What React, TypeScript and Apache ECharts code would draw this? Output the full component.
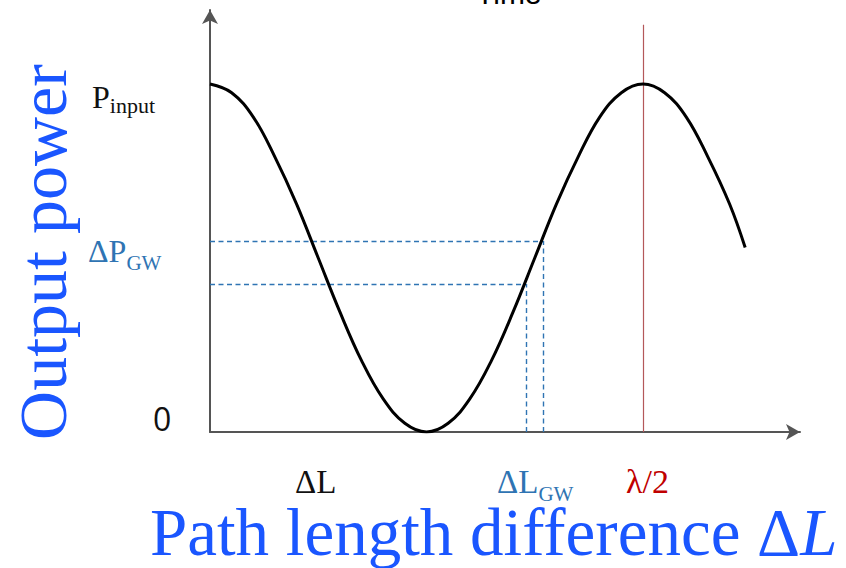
import React, { useEffect, useRef } from "react";
import * as echarts from "echarts";

// Path length difference in units of λ/2
const pathDiff = [0, 0.05, 0.1, 0.15, 0.2, 0.25, 0.3, 0.35, 0.4, 0.45, 0.5, 0.55, 0.6, 0.65, 0.7, 0.75, 0.8, 0.85, 0.9, 0.95, 1.0, 1.05, 1.1, 1.15, 1.2, 1.236];
// Output power normalised to P_input
const outputPower = [1, 0.975, 0.905, 0.79, 0.655, 0.5, 0.345, 0.205, 0.095, 0.025, 0, 0.025, 0.095, 0.205, 0.345, 0.5, 0.655, 0.79, 0.905, 0.975, 1, 0.975, 0.905, 0.79, 0.655, 0.53];

const dlGwValues = [0.73, 0.769];
const dpGwValues = [0.425, 0.549];
const halfLambda = 1.0;
const halfLambdaLineTop = 1.17;

const yTickLabels = ["0", "P", "input"];

const X_MAX = 1.3626;
const Y_MAX = 1.2126;

export default function App() {
  const ref = useRef<HTMLDivElement>(null);
  useEffect(() => {
    if (!ref.current) return;
    const chart = echarts.init(ref.current, null, { renderer: "svg" });
    const blue = "#2f74b3";
    const bigBlue = "#1a56ff";
    const serif = "'Liberation Serif'";
    const dashStyle = { color: blue, type: [5, 3.5] as any, width: 1.4 };
    const markData: any[] = [];
    for (let i = 0; i < dlGwValues.length; i++) {
      markData.push([
        { coord: [0, dpGwValues[i]], lineStyle: dashStyle },
        { coord: [dlGwValues[i], dpGwValues[i]] },
      ]);
      markData.push([
        { coord: [dlGwValues[i], 0], lineStyle: dashStyle },
        { coord: [dlGwValues[i], dpGwValues[i]] },
      ]);
    }
    markData.push([
      { coord: [halfLambda, 0], lineStyle: { color: "#b4585a", width: 1.2, type: "solid" } },
      { coord: [halfLambda, halfLambdaLineTop] },
    ]);
    const txt = (text: string, x: number, y: number, size: number, fill: string, family = serif, extra: any = {}) => ({
      type: "text",
      x,
      y,
      style: { text, fontFamily: family, fontSize: size, fill, ...extra },
    });
    const sub = (main: string, subText: string, x: number, y: number, A: number, B: number, p: number, fill: string) => ({
      type: "text",
      x,
      y,
      style: {
        text: `{a|${main}}{b|${subText}}`,
        rich: {
          a: { fontFamily: serif, fontSize: A, lineHeight: A, fill, verticalAlign: "top" },
          b: { fontFamily: serif, fontSize: B, lineHeight: B, fill, verticalAlign: "top", padding: [p, 0, 0, 0] },
        },
      } as any,
    });
    chart.setOption({
      animation: false,
      backgroundColor: "#ffffff",
      grid: { left: 210, top: 10, right: 46, bottom: 136 },
      xAxis: {
        type: "value",
        min: 0,
        max: X_MAX,
        axisLine: {
          show: true,
          symbol: ["none", "arrow"],
          symbolSize: [12, 14],
          lineStyle: { color: "#555555", width: 2 },
        },
        axisTick: { show: false },
        axisLabel: { show: false },
        splitLine: { show: false },
      },
      yAxis: {
        type: "value",
        min: 0,
        max: Y_MAX,
        axisLine: {
          show: true,
          symbol: ["none", "arrow"],
          symbolSize: [12, 14],
          lineStyle: { color: "#555555", width: 2 },
        },
        axisTick: { show: false },
        axisLabel: { show: false },
        splitLine: { show: false },
      },
      series: [
        {
          type: "line",
          data: pathDiff.map((x, i) => [x, outputPower[i]]),
          smooth: 0.4,
          showSymbol: false,
          lineStyle: { color: "#000000", width: 3 },
          z: 5,
          markLine: {
            silent: true,
            symbol: ["none", "none"],
            label: { show: false },
            data: markData,
          },
        },
      ],
      graphic: [
        txt("Time", 476, -22, 30, "#000", "'Liberation Sans'"),
        sub(yTickLabels[1], yTickLabels[2], 92, 81, 32, 22, 13, "#111"),
        sub("ΔP", "GW", 88, 235, 32, 21, 17.5, blue),
        txt(yTickLabels[0], 153, 402, 32, "#111", "'Open Sans'"),
        txt("ΔL", 295, 465, 33, "#111", serif, { lineHeight: 33 }),
        sub("ΔL", "GW", 497, 465, 33, 21, 18.5, blue),
        txt("λ/2", 626, 464, 34, "#c00000", serif, { lineHeight: 34 }),
        {
          type: "text",
          x: 43,
          y: 252,
          rotation: Math.PI / 2,
          style: {
            text: "Output power",
            fontFamily: serif,
            fontSize: 68,
            fill: bigBlue,
            align: "center",
            verticalAlign: "middle",
          },
        },
        {
          type: "text",
          x: 150,
          y: 502,
          style: {
            text: "{a|Path length difference Δ}{b|L}",
            rich: {
              a: { fontFamily: serif, fontSize: 67, lineHeight: 60, fill: bigBlue },
              b: { fontFamily: serif, fontSize: 67, lineHeight: 60, fill: bigBlue, fontStyle: "italic" },
            },
          } as any,
        },
      ],
    });
    return () => chart.dispose();
  }, []);
  return (
    <div
      ref={ref}
      style={{ position: "fixed", left: 0, top: 0, width: 846, height: 568 }}
    />
  );
}
